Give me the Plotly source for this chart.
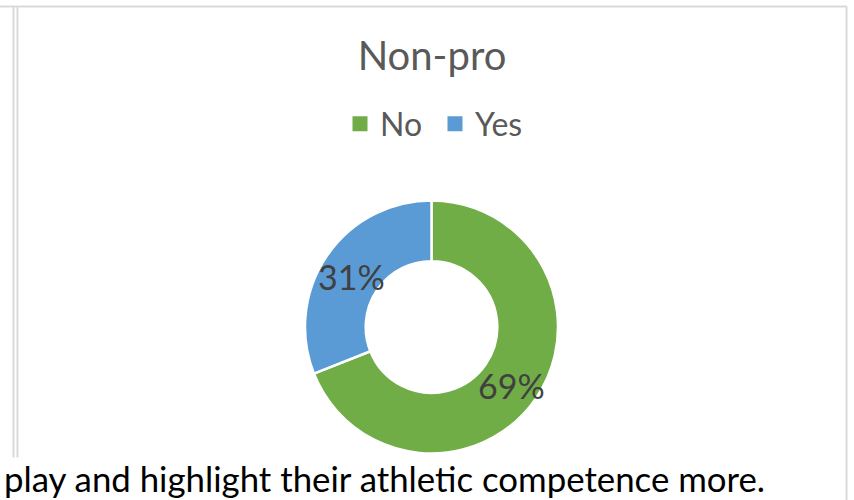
import math
import plotly.graph_objects as go

# Survey answers for the non-professional group
categories = ["No", "Yes"]
shares = [69, 31]
slice_colors = ["#70AD47", "#5B9BD5"]

chart_title = "Non-pro"
caption = "play and highlight their athletic competence more."

W, H = 854, 500
FONT = "Lato, 'Open Sans', sans-serif"
HOLE = 0.52

# Donut placement in page pixels
CX, CY, R = 431.5, 327.0, 126.5


def px_x(x):
    return x / W


def px_y(y):
    return 1 - y / H


fig = go.Figure()

fig.add_trace(
    go.Pie(
        labels=categories,
        values=shares,
        hole=HOLE,
        sort=False,
        direction="clockwise",
        rotation=0,
        marker=dict(colors=slice_colors, line=dict(color="white", width=2.5)),
        textinfo="none",
        hoverinfo="label+percent",
        showlegend=False,
        domain=dict(x=[px_x(CX - R), px_x(CX + R)], y=[px_y(CY + R), px_y(CY - R)]),
    )
)

# Square legend swatches
for name, color in zip(categories, slice_colors):
    fig.add_trace(
        go.Scatter(
            x=[None], y=[None], mode="markers", name=name,
            marker=dict(symbol="square", size=15, color=color),
            hoverinfo="skip",
        )
    )

# Percentage labels, centred on each slice at the middle of the ring
total = sum(shares)
mid_r = R * (1 + HOLE) / 2
labels = []
start = 0.0
for value in shares:
    frac = value / total
    ang = 2 * math.pi * (start + frac / 2)  # clockwise from 12 o'clock
    lx = CX + mid_r * math.sin(ang)
    ly = CY - mid_r * math.cos(ang)
    labels.append(
        dict(
            text=f"{round(frac * 100)}%",
            xref="paper", yref="paper",
            x=px_x(lx), y=px_y(ly),
            xanchor="center", yanchor="middle",
            yshift=-4,
            showarrow=False,
            font=dict(family=FONT, size=34, color="#404040"),
        )
    )
    start += frac

# Chart frame and the page edge lines around it
frame = dict(color="#D9D9D9", width=2)
shapes = [
    dict(type="line", xref="paper", yref="paper",
         x0=0, x1=px_x(847), y0=px_y(6.5), y1=px_y(6.5), line=frame),
    dict(type="line", xref="paper", yref="paper",
         x0=px_x(13.5), x1=px_x(13.5), y0=px_y(6.5), y1=px_y(486), line=frame),
    dict(type="line", xref="paper", yref="paper",
         x0=px_x(17.5), x1=px_x(17.5), y0=px_y(6.5), y1=px_y(486), line=frame),
    dict(type="line", xref="paper", yref="paper",
         x0=px_x(846.5), x1=px_x(846.5), y0=px_y(6.5), y1=0, line=frame),
]

caption_note = dict(
    text=caption,
    xref="paper", yref="paper",
    x=px_x(3), xanchor="left",
    y=0, yanchor="bottom",
    showarrow=False,
    borderpad=0,
    font=dict(family=FONT, size=34.8, color="#000000"),
    bgcolor="white",
)

fig.update_layout(
    width=W,
    height=H,
    margin=dict(l=0, r=0, t=0, b=0),
    paper_bgcolor="white",
    plot_bgcolor="white",
    xaxis=dict(visible=False),
    yaxis=dict(visible=False),
    shapes=shapes,
    title=dict(
        text=chart_title,
        x=px_x(432), xanchor="center",
        y=px_y(56), yanchor="middle",
        xref="paper", yref="paper",
        font=dict(family=FONT, size=40, color="#595959"),
    ),
    showlegend=True,
    legend=dict(
        orientation="h",
        x=px_x(340), xanchor="left",
        y=px_y(124), yanchor="middle",
        entrywidth=50,
        entrywidthmode="pixels",
        font=dict(family=FONT, size=32, color="#595959"),
        bgcolor="rgba(0,0,0,0)",
        itemclick=False,
        itemdoubleclick=False,
    ),
    annotations=labels + [caption_note],
)

fig.write_html("out.html")
